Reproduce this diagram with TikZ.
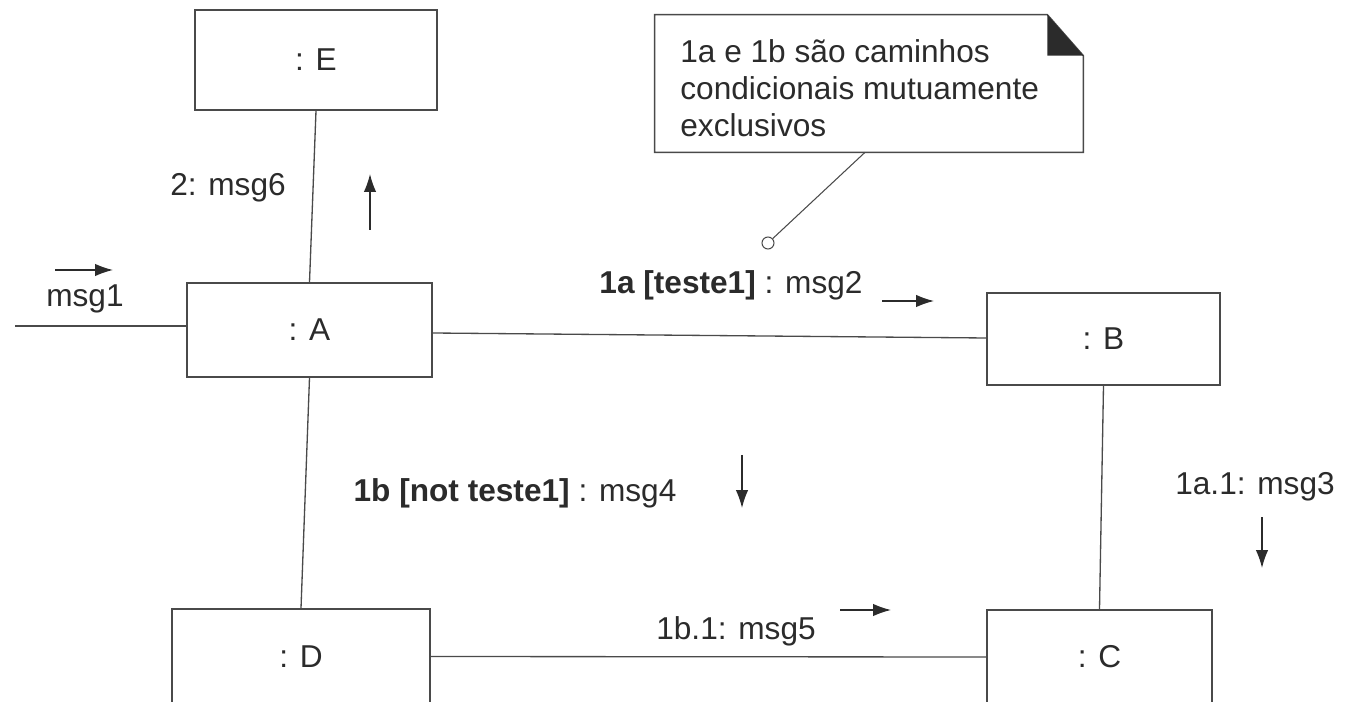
\documentclass[tikz,border=0pt]{standalone}
\usepackage{fontspec}
\setmainfont{Liberation Sans}
\usetikzlibrary{arrows.meta}
\definecolor{ink}{HTML}{2B2B2B}
\definecolor{wire}{HTML}{4A4A4A}
\begin{document}
\begin{tikzpicture}[x=0.02cm,y=-0.02cm,
  font=\fontsize{18}{21}\selectfont, text=ink,
  objbox/.style={draw=wire, line width=0.85pt, fill=white, inner sep=0pt},
  link/.style={draw=wire, line width=0.75pt},
  msgarrow/.style={draw=ink, line width=0.75pt, -{Latex[length=0.36cm,width=0.25cm]}},
  lbl/.style={inner sep=0pt, anchor=center}]
\useasboundingbox (0,0) rectangle (1346,702);
\clip (0,0) rectangle (1346,702);

% objects
\node[objbox, minimum width=4.84cm, minimum height=2.0cm]  (E) at (316,60)    {: E};
\node[objbox, minimum width=4.9cm,  minimum height=1.88cm] (A) at (309.5,330) {: A};
\node[objbox, minimum width=4.66cm, minimum height=1.84cm] (B) at (1103.5,339){: B};
\node[objbox, minimum width=5.16cm, minimum height=1.9cm]  (D) at (301,656.5) {: D};
\node[objbox, minimum width=4.5cm,  minimum height=1.88cm] (C) at (1099.5,657){: C};

% links
\coordinate (in) at (15,326);
\draw[link] (in) -- (A.west |- in);
\draw[link] (A.north) -- (E.south);
\draw[link] ([yshift=-0.06cm]A.east) -- ([yshift=0.02cm]B.west);
\draw[link] (A.south) -- (D.north);
\draw[link] (B.south) -- (C.north);
\draw[link] (D.east) -- (C.west);

% note with folded corner
\node[minimum width=8.56cm, minimum height=2.74cm, inner sep=0pt] (note) at (869,83.5) {};
\draw[link, line width=0.85pt]
  (note.south west) -- (note.north west) -- ([xshift=-0.72cm]note.north east)
  -- ([yshift=-0.82cm]note.north east) -- (note.south east) -- cycle;
\fill[ink] ([xshift=-0.72cm]note.north east) -- ([xshift=-0.72cm,yshift=-0.82cm]note.north east)
  -- ([yshift=-0.82cm]note.north east) -- cycle;
\node[anchor=north west, align=left, inner sep=0pt] (notetext) at (680,39)
  {1a e 1b são caminhos\\condicionais mutuamente\\exclusivos};
\node[circle, draw=wire, line width=0.6pt, fill=white, inner sep=0pt, minimum size=0.24cm] (pin) at (768,243) {};
\draw[link, line width=0.6pt] ([xshift=-0.08cm]note.south) -- (pin);

% message labels
\node[lbl] (m1) at (85,299) {msg1};
\node[lbl] (m6) at (228,188) {2: msg6};
\node[lbl] (m2) at (731,285) {\textbf{1a [teste1]} : msg2};
\node[lbl] (m4) at (515,493) {\textbf{1b [not teste1]} : msg4};
\node[lbl] (m3) at (1255,487) {1a.1: msg3};
\node[lbl] (m5) at (736,631) {1b.1: msg5};

% message direction arrows
\draw[msgarrow] (55,270) -- (113,270);
\draw[msgarrow] (370,230) -- (370,174);
\draw[msgarrow] (882,301) -- (934,301);
\draw[msgarrow] (742,455) -- (742,508);
\draw[msgarrow] (1262,517) -- (1262,568);
\draw[msgarrow] (840,610) -- (891,610);
\end{tikzpicture}
\end{document}
